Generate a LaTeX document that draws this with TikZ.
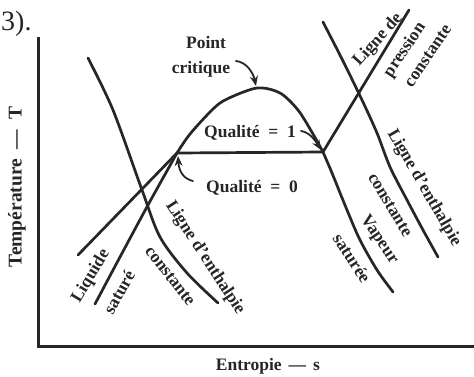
\documentclass[tikz,border=0pt]{standalone}
\usepackage{fontspec}
\setmainfont{Liberation Serif}
\usetikzlibrary{arrows.meta}
\definecolor{ink}{RGB}{38,38,38}
\begin{document}
\begin{tikzpicture}[x=1pt,y=-1pt,line cap=round,line join=round,
  curve/.style={draw=ink,line width=2.7pt},
  axis/.style={draw=ink,line width=3pt,line cap=butt,line join=miter},
  lbl/.style={text=ink,font=\fontsize{17.5}{20}\selectfont\bfseries,inner sep=0pt},
  ptr/.style={draw=ink,line width=1.8pt,-{Stealth[length=10pt,width=8pt]}}]
\useasboundingbox (0,0) rectangle (474,376);
\fill[white] (0,0) rectangle (474,376);

% axes
\coordinate (ytop) at (38,37);
\coordinate (orig) at (38,346);
\coordinate (xend) at (474,346);
\draw[axis] (ytop) -- (orig) -- (xend);

% key points
\coordinate (sl) at (177,153);
\coordinate (sv) at (323,152);
\coordinate (cp) at (257,88);

% dome
\draw[curve] plot[smooth] coordinates {(177,153) (190,134) (213,109) (227,99) (257,88) (280,93) (298,110) (313,134) (323,152)};
% saturated liquid line
\draw[curve] plot[smooth] coordinates {(95,304) (120,257) (148,205) (177,153)};
% saturated vapour line
\draw[curve] plot[smooth] coordinates {(323,152) (332,173) (347,210) (360,240) (377,270) (393,292)};
% constant pressure line
\coordinate (pA) at (78,255);
\coordinate (pB) at (409,10);
\draw[curve] (pA) -- (sl) -- (sv) -- (pB);
% constant enthalpy lines
\draw[curve] plot[smooth] coordinates {(88,58) (113,110) (142,190) (160,237) (187,273) (218,303)};
\draw[curve] plot[smooth] coordinates {(323,22) (343,61) (362,100) (377,133) (390,167) (407,200) (423,230) (438,257)};

% horizontal labels
\node[lbl,anchor=base] (point) at (206,48) {Point};
\node[lbl,anchor=base] (crit) at (201,73) {critique};
\node[lbl,anchor=base] (q1) at (250,137) {Qualité\hspace{0.5em}=\hspace{0.5em}1};
\node[lbl,anchor=base] (q0) at (252,192) {Qualité\hspace{0.5em}=\hspace{0.5em}0};

% pointers
\coordinate (ct) at (236,61);
\coordinate (cptip) at (256,86);
\draw[ptr] (ct) .. controls (246,62) and (253,72) .. (cptip);
\coordinate (q1t) at (301,131);
\coordinate (svtip) at (321,150);
\draw[ptr] (q1t) .. controls (309,132) and (315,140) .. (svtip);
\coordinate (q0t) at (193,181);
\coordinate (sltip) at (178,156);
\draw[ptr] (q0t) .. controls (184,179) and (179,172) .. (sltip);

% rotated labels
\node[lbl,rotate=59] (liq) at (91,276) {Liquide};
\node[lbl,rotate=61] (liq2) at (119,292) {saturé};
\node[lbl,rotate=-57] (hl1) at (205,258) {Ligne d'enthalpie};
\node[lbl,rotate=-52] (hl2) at (170,276) {constante};
\node[lbl,rotate=-56] (vap1) at (379,240) {Vapeur};
\node[lbl,rotate=-57] (vap2) at (352,258) {saturée};
\node[lbl,rotate=-60] (hr1) at (424,188) {Ligne d'enthalpie};
\node[lbl,rotate=-59] (hr2) at (390,205) {constante};
\node[lbl,rotate=48] (pr1) at (378,40) {Ligne de};
\node[lbl,rotate=56] (pr2) at (405,50) {pression};
\node[lbl,rotate=56] (pr3) at (428,56) {constante};

% axis labels
\node[lbl,font=\fontsize{19.5}{22}\selectfont\bfseries,rotate=90] (ylab) at (17,187) {Température\hspace{0.5em}—\hspace{0.5em}T};
\node[lbl,anchor=base] (xlab) at (268,370) {Entropie\hspace{0.4em}—\hspace{0.4em}s};

% fragment of page text
\node[text=ink,font=\fontsize{28}{28}\selectfont,inner sep=0pt,anchor=base west] (frag) at (1,30) {3).};
\end{tikzpicture}
\end{document}
